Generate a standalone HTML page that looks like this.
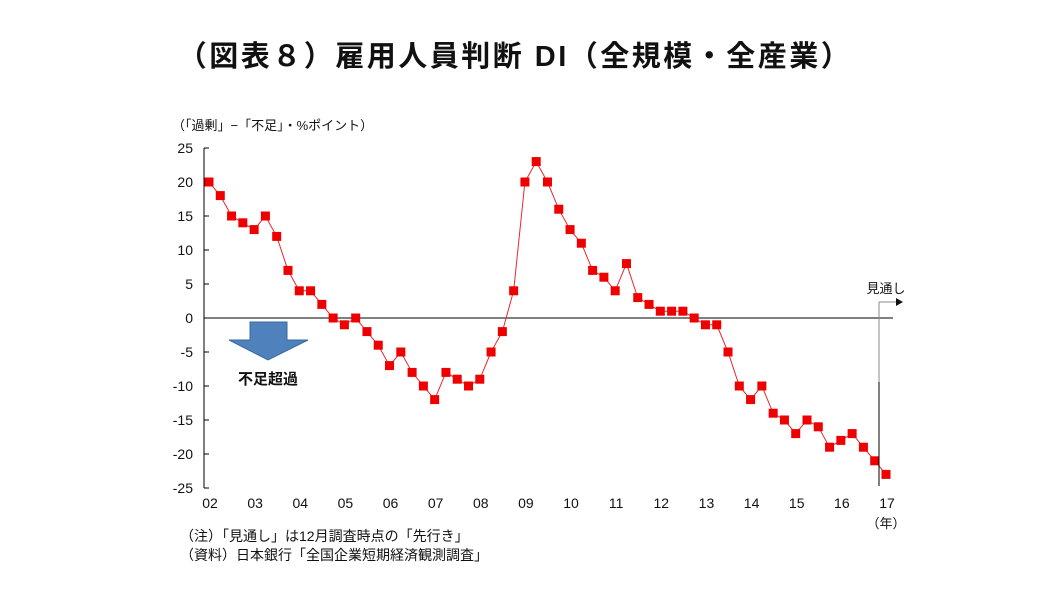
<!DOCTYPE html>
<html><head><meta charset="utf-8"><style>
body{margin:0;background:#fff;width:1050px;height:608px;overflow:hidden;font-family:"Liberation Sans","Noto Sans CJK JP",sans-serif}
</style></head><body>
<svg width="1050" height="608" font-family="Liberation Sans, Noto Sans CJK JP, sans-serif">
<text x="515" y="66" text-anchor="middle" font-size="29" font-weight="bold" letter-spacing="2.5" fill="#111">（図表８）雇用人員判断 DI（全規模・全産業）</text>
<text x="172" y="130" font-size="13" fill="#111">（「過剰」−「不足」・%ポイント）</text>
<g id="axes"></g>
<g id="series"></g>
<g>
<polygon points="250,322 287,322 287,340 308,340 268,360 229,340 250,340" fill="#4f81bd" stroke="#3a6aa0"/>
<text x="268" y="384" text-anchor="middle" font-size="15" font-weight="bold" fill="#111">不足超過</text>
</g>
<g>
<line x1="879" y1="302" x2="879" y2="382" stroke="#888" stroke-width="1"/>
<line x1="879" y1="382" x2="879" y2="486" stroke="#000" stroke-width="1"/>
<line x1="879" y1="302" x2="896" y2="302" stroke="#888" stroke-width="1"/>
<polygon points="896,298 903,302 896,306" fill="#111"/>
<text x="886" y="293" text-anchor="middle" font-size="13" fill="#111">見通し</text>
</g>
<text x="886" y="528" text-anchor="middle" font-size="13" fill="#111">（年）</text>
<text x="180" y="541" font-size="14" fill="#111">（注）「見通し」は12月調査時点の「先行き」</text>
<text x="180" y="560" font-size="14" fill="#111">（資料）日本銀行「全国企業短期経済観測調査」</text>
</svg>
<script>
const years=['02','03','04','05','06','07','08','09','10','11','12','13','14','15','16','17'];
const yTicks=[25,20,15,10,5,0,-5,-10,-15,-20,-25];
const di=[20,18,15,14,13,15,12,7,4,4,2,0,-1,0,-2,-4,-7,-5,-8,-10,-12,-8,-9,-10,-9,-5,-2,4,20,23,20,16,13,11,7,6,4,8,3,2,1,1,1,0,-1,-1,-5,-10,-12,-10,-14,-15,-17,-15,-16,-19,-18,-17,-19,-21,-23];
const NS='http://www.w3.org/2000/svg';
const x=i=>209+i*11.283, y=v=>318-v*6.8;
function mk(t,a,p){const e=document.createElementNS(NS,t);for(const k in a)e.setAttribute(k,a[k]);p.appendChild(e);return e;}
const ax=document.getElementById('axes'), sr=document.getElementById('series');
const yl=mk('line',{x1:204,y1:148,x2:204,y2:488,stroke:'#000'},ax);


const zl=mk('line',{x1:204,y1:y(0),x2:893,y2:y(0),stroke:'#000'},ax);


yTicks.forEach(v=>{mk('line',{x1:204,y1:y(v),x2:209,y2:y(v),stroke:'#000'},ax);
const t=mk('text',{x:193,y:y(v)+5,'text-anchor':'end','font-size':14,fill:'#111'},ax);t.textContent=v;

});
years.forEach((s,i)=>{const t=mk('text',{x:x(i*4)+1,y:508,'text-anchor':'middle','font-size':14,fill:'#111'},ax);t.textContent=s;

});
const pl=mk('polyline',{points:di.map((v,i)=>x(i)+','+y(v)).join(' '),fill:'none',stroke:'#e8282e','stroke-width':1},sr);


di.forEach((v,i)=>{const r=mk('rect',{x:x(i)-4.5,y:y(v)-4.5,width:9,height:9,fill:'#ee0000'},sr);

});
</script>
</body></html>
